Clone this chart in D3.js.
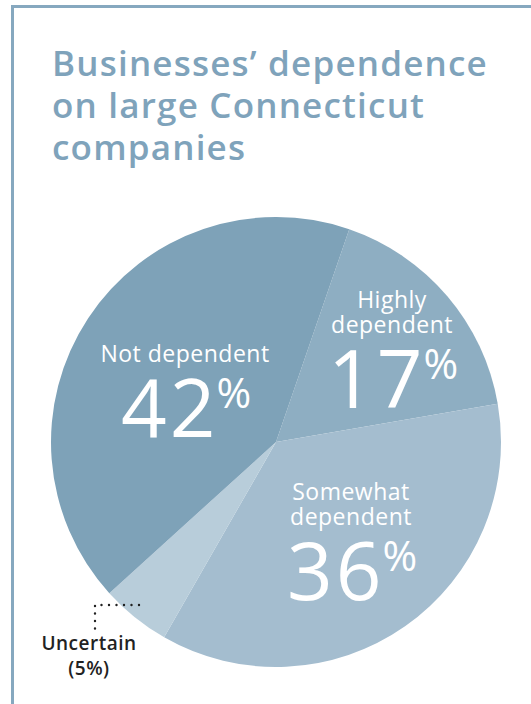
<!DOCTYPE html>
<html>
<head>
<meta charset="utf-8">
<script src="https://cdn.jsdelivr.net/npm/d3@7"></script>
<style>
  html, body { margin: 0; padding: 0; background: #fff; }
  svg { display: block; }
</style>
</head>
<body>
<svg id="chart" width="531" height="704"></svg>
<script>
// Survey shares (percent), in drawing order clockwise
const categories = ["Highly dependent", "Somewhat dependent", "Uncertain", "Not dependent"];
const shares = [17, 36, 5, 42];
const sliceColors = ["#8eaec2", "#a4bdcf", "#b8cdda", "#7ea2b8"];
const titleLines = ["Businesses\u2019 dependence", "on large Connecticut", "companies"];

const svg = d3.select("#chart");
const W = 531, H = 704;
const font = "'Open Sans', Lato, sans-serif";

// Frame (left and top rules)
svg.append("path")
  .attr("d", `M12.5,${H} V6.5 H${W}`)
  .attr("fill", "none")
  .attr("stroke", "#86a8bf")
  .attr("stroke-width", 3);

// Title
const title = svg.append("text")
  .attr("x", 52)
  .attr("fill", "#7fa3bb")
  .attr("font-family", font)
  .attr("font-weight", 600)
  .attr("font-size", 35)
  .attr("letter-spacing", 1.2);
titleLines.forEach((t, i) => {
  title.append("tspan").attr("x", 52).attr("y", 76 + i * 42).text(t);
});

// Pie
const cx = 276, cy = 442, R = 225;
const data = categories.map((c, i) => ({ name: c, value: shares[i], color: sliceColors[i] }));
const pie = d3.pie().sort(null).value(d => d.value)
  .startAngle(19 * Math.PI / 180)
  .endAngle(19 * Math.PI / 180 + 2 * Math.PI);
const arc = d3.arc().innerRadius(0).outerRadius(R);

const g = svg.append("g").attr("transform", `translate(${cx},${cy})`);
g.selectAll("path")
  .data(pie(data))
  .join("path")
  .attr("d", arc)
  .attr("fill", d => d.data.color);

// In-slice labels: anchor point for each label block (relative to pie centre)
const labelPlacement = {
  "Highly dependent": { x: 116, lines: ["Highly", "dependent"], y0: -134 },
  "Somewhat dependent": { x: 75, lines: ["Somewhat", "dependent"], y0: 58 },
  "Not dependent": { x: -91, lines: ["Not dependent"], y0: -80 }
};

pie(data).forEach(d => {
  const p = labelPlacement[d.data.name];
  if (!p) return;
  const t = g.append("text")
    .attr("fill", "#fff")
    .attr("font-family", font)
    .attr("text-anchor", "middle");
  p.lines.forEach((line, i) => {
    t.append("tspan")
      .attr("x", p.x).attr("y", p.y0 + i * 25)
      .attr("font-size", 23)
      .attr("font-weight", 500)
      .attr("letter-spacing", 0.5)
      .text(line);
  });
  const numY = p.y0 + (p.lines.length - 1) * 25 + 75;
  t.append("tspan")
    .attr("x", p.x + 1).attr("y", numY)
    .attr("font-size", 80)
    .attr("font-weight", 500)
    .attr("letter-spacing", 3)
    .text(d.data.value)
    .append("tspan")
    .attr("dx", -2).attr("dy", -29)
    .attr("font-size", 42)
    .attr("font-weight", 400)
    .attr("letter-spacing", 0)
    .text("%");
});

// Callout for the small slice
const small = pie(data).find(d => d.data.name === "Uncertain");
const callout = svg.append("g");
callout.append("path")
  .attr("d", `M${cx - 137},${cy + 163} H${cx - 181} V${cy + 190}`)
  .attr("fill", "none")
  .attr("stroke", "#222")
  .attr("stroke-width", 2.4)
  .attr("stroke-linecap", "round")
  .attr("stroke-dasharray", "0 7.5");
const ct = callout.append("text")
  .attr("text-anchor", "middle")
  .attr("font-family", font)
  .attr("font-weight", 600)
  .attr("font-size", 19)
  .attr("letter-spacing", 0.5)
  .attr("fill", "#222");
ct.append("tspan").attr("x", 89).attr("y", 650).text("Uncertain");
ct.append("tspan").attr("x", 89).attr("y", 675).text(`(${small.data.value}%)`);
</script>
</body>
</html>
